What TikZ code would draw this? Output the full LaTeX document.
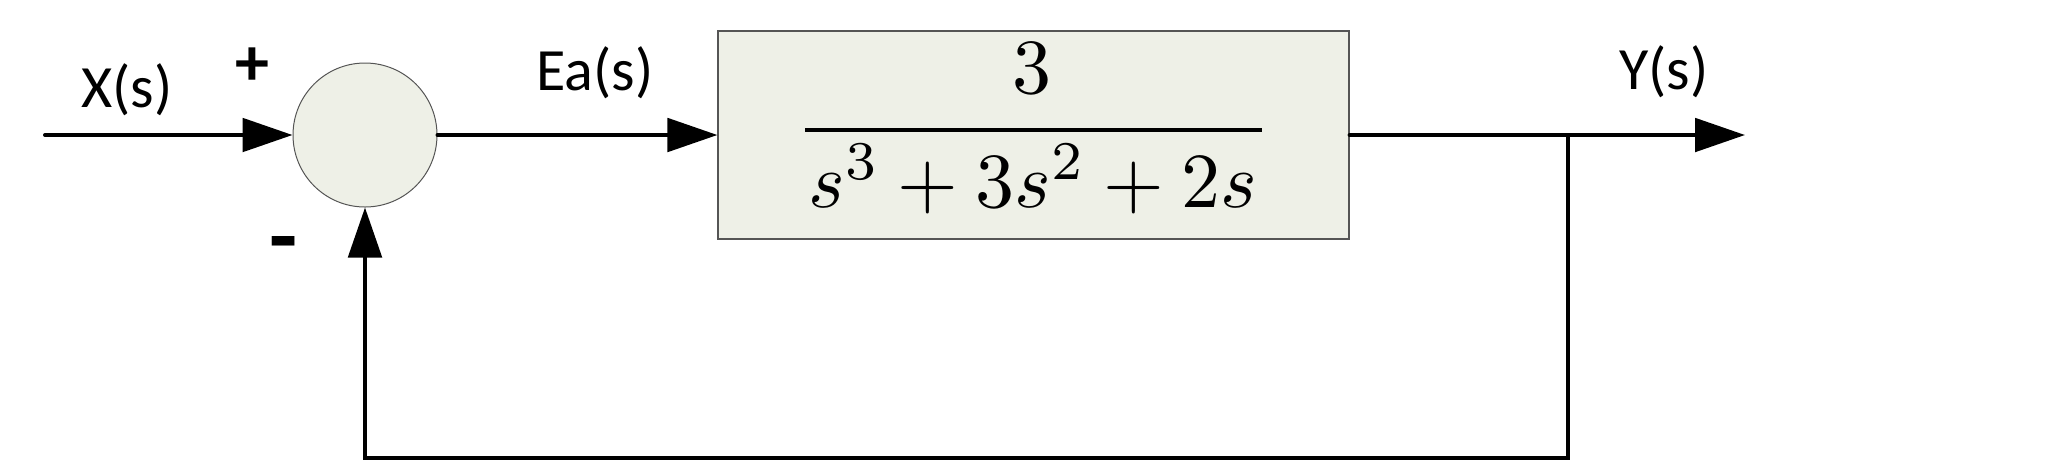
\documentclass[tikz,border=0pt]{standalone}
\usepackage[no-math]{fontspec}
\setmainfont{Carlito}
\usetikzlibrary{arrows.meta}
\definecolor{blockfill}{RGB}{238,240,231}
\definecolor{blockdraw}{RGB}{85,85,85}
\begin{document}
\begin{tikzpicture}[x=0.5pt,y=-0.5pt,
  sig/.style={line width=2pt,line cap=round},
  arr/.style={sig,-{Triangle[length=25pt,width=16.7pt]}},
  lbl/.style={font=\fontsize{30}{36}\selectfont,inner sep=0pt,anchor=base},
  signmark/.style={font=\fontsize{34}{40}\selectfont\bfseries,inner sep=0pt},
  mathtxt/.style={inner sep=0pt,scale=3.9},
  sumjunc/.style={circle,draw=blockdraw,line width=0.5pt,fill=blockfill,minimum size=72pt,inner sep=0pt},
  block/.style={rectangle,draw=blockdraw,line width=0.6pt,fill=blockfill,minimum width=315.5pt,minimum height=104pt,inner sep=0pt}
]
\useasboundingbox (0,0) rectangle (2067,463);
% blocks
\node[sumjunc] (sum) at (365,135) {};
\node[block] (G) at (1033.5,135) {};
\node[mathtxt] (num) at (1032,68) {$3$};
\node[mathtxt] (den) at (1033,179) {$s^3+3s^2+2s$};
\draw[line width=2.4pt] (805,130) -- (1262,130);
% coordinates
\coordinate (in) at (45,135);
\coordinate (br) at (1568,135);
\coordinate (out) at (1745,135);
\coordinate (bl) at (1568,458);
\coordinate (fl) at (sum.south |- bl);
% connectors
\draw[arr] (in) -- (sum.west);
\draw[arr] (sum.east) -- (G.west);
\draw[arr] (G.east) -- (out);
\draw[sig,-{Triangle[length=25pt,width=16.7pt]}] (br) -- (bl) -- (fl) -- (sum.south);
% labels
\node[lbl] (xl) at (127,107) {X(s)};
\node[lbl] (el) at (595,90) {Ea(s)};
\node[lbl] (yl) at (1664,89) {Y(s)};
\node[signmark] (plus) at (252,67) {+};
\node[signmark,font=\fontsize{46}{50}\selectfont\bfseries,anchor=base] (minus) at (284,267) {-};
\end{tikzpicture}
\end{document}
